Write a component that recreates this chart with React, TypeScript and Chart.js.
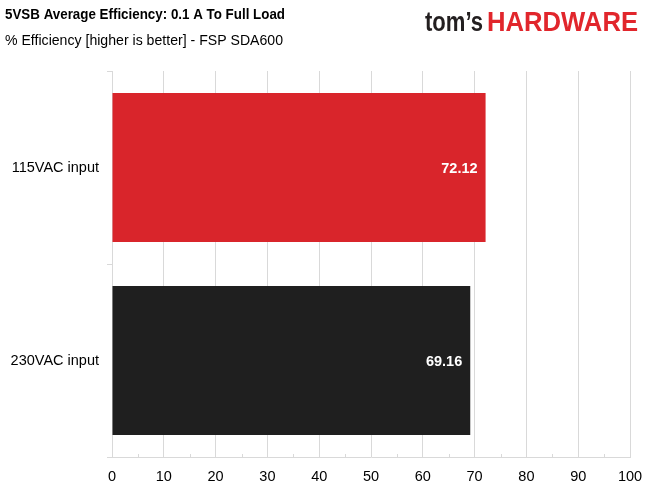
import React, { useEffect, useRef } from "react";
import { Chart, registerables } from "chart.js";

Chart.register(...registerables);

const categories = ["115VAC input", "230VAC input"];
const values = [72.12, 69.16];
const barColors = ["#d9252b", "#1f1f1f"];
const xTickValues = [0, 10, 20, 30, 40, 50, 60, 70, 80, 90, 100];
const titleText = "5VSB Average Efficiency: 0.1 A To Full Load";
const subtitleText = "% Efficiency [higher is better] - FSP SDA600";

const FONT = "'Liberation Sans', Arial, sans-serif";

const headerPlugin = {
  id: "header",
  afterDraw(chart: any) {
    const ctx = chart.ctx;
    ctx.save();
    ctx.textBaseline = "middle";
    ctx.textAlign = "left";
    ctx.fillStyle = "#000000";
    ctx.font = `bold 15px ${FONT}`;
    ctx.fillText(titleText, 5, 15, 280);
    ctx.font = `15px ${FONT}`;
    ctx.fillText(subtitleText, 5, 41, 278);
    // logo
    ctx.textBaseline = "alphabetic";
    ctx.font = `bold 28px ${FONT}`;
    ctx.fillStyle = "#231f20";
    ctx.fillText("tom\u2019s", 425, 31, 58);
    ctx.fillStyle = "#e1262c";
    ctx.fillText("HARDWARE", 487, 31, 151);
    ctx.restore();
  },
};

const minorTickPlugin = {
  id: "minorTicks",
  afterDatasetsDraw(chart: any) {
    const ctx = chart.ctx;
    const x = chart.scales.x;
    const bottom = chart.chartArea.bottom;
    ctx.save();
    ctx.strokeStyle = "#d9d9d9";
    ctx.lineWidth = 1;
    for (let v = 5; v < 100; v += 10) {
      const px = Math.round(x.getPixelForValue(v)) + 0.5;
      ctx.beginPath();
      ctx.moveTo(px, bottom);
      ctx.lineTo(px, bottom - 3);
      ctx.stroke();
    }
    ctx.restore();
  },
};

const labelPlugin = {
  id: "barLabels",
  afterDatasetsDraw(chart: any) {
    const ctx = chart.ctx;
    const meta = chart.getDatasetMeta(0);
    ctx.save();
    ctx.font = `bold 14.5px ${FONT}`;
    ctx.fillStyle = "#ffffff";
    ctx.textAlign = "right";
    ctx.textBaseline = "middle";
    meta.data.forEach((bar: any, i: number) => {
      ctx.fillText(values[i].toFixed(2), bar.x - 8, bar.y + 1);
    });
    ctx.restore();
  },
};

export default function App() {
  const ref = useRef<HTMLCanvasElement>(null);
  useEffect(() => {
    if (!ref.current) return;
    const chart = new Chart(ref.current, {
      type: "bar",
      data: {
        labels: categories,
        datasets: [
          {
            data: values,
            backgroundColor: barColors,
            borderWidth: 0,
            categoryPercentage: 1,
            barPercentage: 0.772,
          },
        ],
      },
      options: {
        indexAxis: "y",
        responsive: false,
        animation: false,
        devicePixelRatio: 1,
        layout: { padding: { top: 71, right: 21, left: 0, bottom: 0 } },
        plugins: { legend: { display: false }, tooltip: { enabled: false } },
        scales: {
          x: {
            min: 0,
            max: 100,
            afterBuildTicks: (scale: any) => {
              scale.ticks = xTickValues.map((v) => ({ value: v }));
            },
            grid: { color: "#d9d9d9", drawTicks: false, lineWidth: 1 },
            border: { color: "#d9d9d9", width: 1 },
            ticks: {
              color: "#000000",
              font: { family: FONT, size: 14.5 },
              padding: 11,
              maxRotation: 0,
            },
            afterFit: (scale: any) => {
              scale.height = 34;
              scale.paddingRight = 0;
              scale.paddingLeft = 0;
            },
          },
          y: {
            grid: {
              offset: true,
              drawOnChartArea: false,
              drawTicks: true,
              tickLength: 5,
              color: "#d9d9d9",
            },
            border: { color: "#d9d9d9", width: 1 },
            ticks: {
              color: "#000000",
              font: { family: FONT, size: 14.5 },
              padding: 8,
            },
            afterFit: (scale: any) => {
              scale.width = 112;
            },
          },
        },
      },
      plugins: [headerPlugin, minorTickPlugin, labelPlugin],
    } as any);
    return () => chart.destroy();
  }, []);
  return (
    <div style={{ position: "absolute", left: 0, top: 0, width: 651, height: 491, background: "#ffffff" }}>
      <canvas ref={ref} width={651} height={491} style={{ display: "block", width: 651, height: 491 }} />
    </div>
  );
}
